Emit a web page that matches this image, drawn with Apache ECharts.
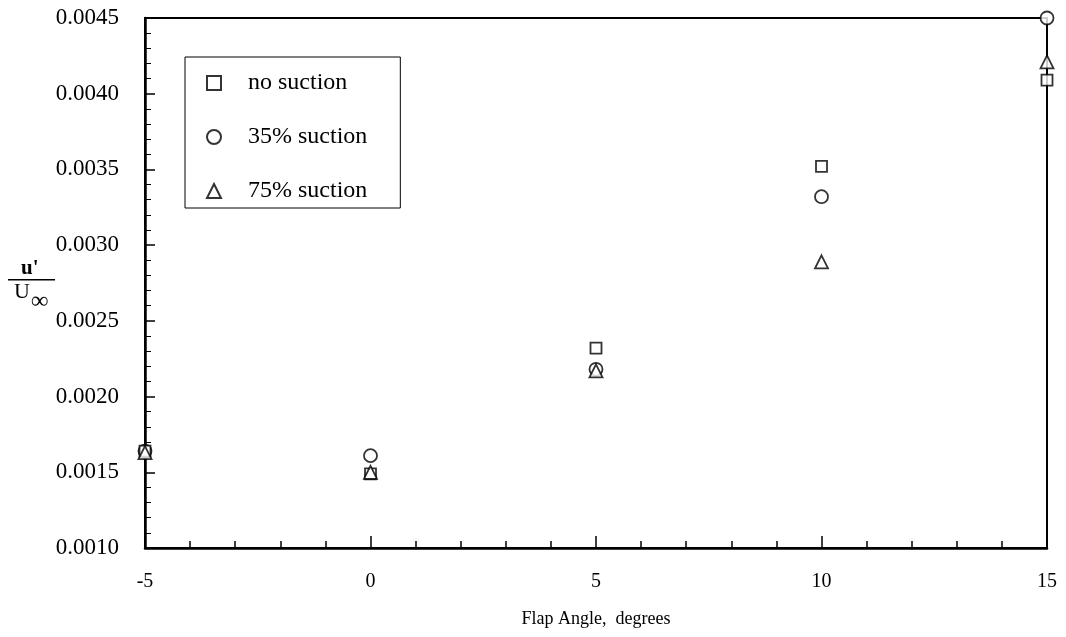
<!DOCTYPE html>
<html>
<head>
<meta charset="utf-8">
<script src="https://cdn.jsdelivr.net/npm/echarts@6/dist/echarts.min.js"></script>
<style>
  html, body { margin: 0; padding: 0; background: #fff; }
  #chart { width: 1066px; height: 637px; }
</style>
</head>
<body>
<div id="chart"></div>
<script>
// flap angle (degrees)
const angles = [-5, 0, 5, 10, 15];
// u'/U_inf
const noSuction = [0.00164, 0.00149, 0.00232, 0.00352, 0.00409];
const suction35 = [0.00164, 0.00161, 0.00218, 0.00332, 0.00450];
const suction75 = [0.00163, 0.00150, 0.00217, 0.00289, 0.00421];
const seriesNames = ['no suction', '35% suction', '75% suction'];
const yTicks = [0.0010, 0.0015, 0.0020, 0.0025, 0.0030, 0.0035, 0.0040, 0.0045];

const serif = '"Liberation Serif", "DejaVu Serif", serif';

function pairs(ys) {
  return angles.map((a, i) => [a, ys[i]]);
}

const chart = echarts.init(document.getElementById('chart'));

const markerStyle = {
  color: '#fff',
  borderColor: '#000',
  borderWidth: 1.8
};

const option = {
  animation: false,
  backgroundColor: '#fff',
  grid: {
    left: 145,
    right: 19,
    top: 18,
    bottom: 89,
    show: true,
    borderColor: '#000',
    borderWidth: 2,
    backgroundColor: 'transparent'
  },
  legend: {
    orient: 'vertical',
    left: 185,
    top: 57,
    padding: [13, 33, 4, 21],
    itemGap: 28,
    itemWidth: 14,
    itemHeight: 14,
    borderColor: '#000',
    borderWidth: 1,
    backgroundColor: '#fff',
    textStyle: {
      fontFamily: serif,
      fontSize: 24,
      color: '#000',
      lineHeight: 26,
      padding: [0, 0, 0, 22]
    },
    data: seriesNames
  },
  xAxis: {
    type: 'value',
    min: -5,
    max: 15,
    interval: 5,
    name: 'Flap Angle,  degrees',
    nameLocation: 'middle',
    nameGap: 62,
    nameTextStyle: { fontFamily: serif, fontSize: 18, color: '#000' },
    axisLine: { onZero: false, lineStyle: { color: '#000', width: 2.5 } },
    axisTick: { inside: true, length: 12, lineStyle: { color: '#000', width: 1.5 } },
    minorTick: { show: true, splitNumber: 5, length: 7, lineStyle: { color: '#000', width: 1.5 } },
    splitLine: { show: false },
    axisLabel: { fontFamily: serif, fontSize: 20, color: '#000', margin: 24 }
  },
  yAxis: {
    type: 'value',
    min: yTicks[0],
    max: yTicks[yTicks.length - 1],
    interval: 0.0005,
    axisLine: { onZero: false, lineStyle: { color: '#000', width: 2.5 } },
    axisTick: { inside: true, length: 10, lineStyle: { color: '#000', width: 1.5 } },
    minorTick: { show: true, splitNumber: 5, length: 6, lineStyle: { color: '#000', width: 1 } },
    splitLine: { show: false },
    axisLabel: {
      fontFamily: serif,
      fontSize: 23,
      color: '#000',
      margin: 26,
      formatter: v => v.toFixed(4)
    }
  },
  graphic: [
    {
      type: 'text', left: 21, top: 258,
      style: { text: "u'", font: 'bold 21px ' + serif, fill: '#000' }
    },
    {
      type: 'rect', shape: { x: 8, y: 279, width: 47, height: 1.5 },
      style: { fill: '#000' }
    },
    {
      type: 'text', left: 14, top: 281,
      style: { text: 'U', font: '22px ' + serif, fill: '#000' }
    },
    {
      type: 'text', left: 31, top: 290,
      style: { text: '\u221E', font: 'bold 24px ' + serif, fill: '#000' }
    }
  ],
  series: [
    {
      name: seriesNames[0],
      type: 'scatter',
      symbol: 'rect',
      symbolSize: 11,
      itemStyle: markerStyle,
      z: 3,
      data: pairs(noSuction)
    },
    {
      name: seriesNames[1],
      type: 'scatter',
      symbol: 'circle',
      symbolSize: 13,
      itemStyle: markerStyle,
      z: 2,
      data: pairs(suction35)
    },
    {
      name: seriesNames[2],
      type: 'scatter',
      symbol: 'triangle',
      symbolSize: 13,
      itemStyle: markerStyle,
      z: 4,
      data: pairs(suction75)
    }
  ]
};

chart.setOption(option);
</script>
</body>
</html>
